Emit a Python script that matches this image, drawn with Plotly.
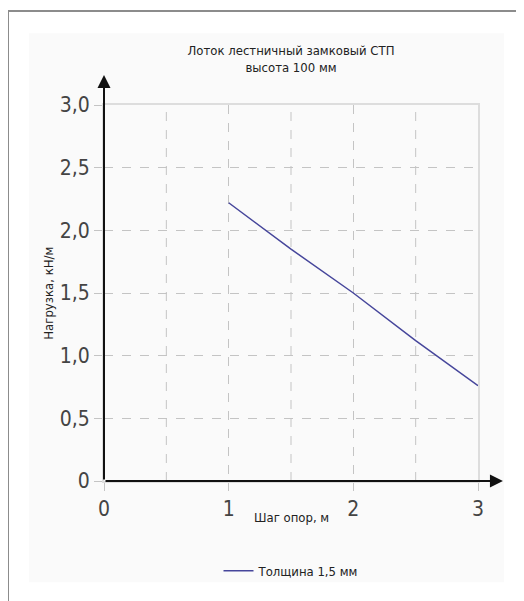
import plotly.graph_objects as go

# данные
spans = [1, 1.5, 2, 2.5, 3]
loads = [2.22, 1.85, 1.5, 1.12, 0.76]

x_ticks = [0, 1, 2, 3]
x_ticktext = ["0", "1", "2", "3"]
y_ticks = [0, 0.5, 1.0, 1.5, 2.0, 2.5, 3.0]
y_ticktext = ["0", "0,5", "1,0", "1,5", "2,0", "2,5", "3,0"]

narrow = dict(family="DejaVu Sans Condensed, Liberation Sans Narrow, sans-serif")

fig = go.Figure()
fig.add_trace(go.Scatter(x=spans, y=loads, mode="lines", name="Толщина 1,5 мм",
                         line=dict(color="#46469b", width=1.5)))

# страница имеет отступ 8px, поэтому фигура чуть меньше окна
fig.update_layout(
    width=516, height=593,
    margin=dict(l=96, r=46, t=97, b=120),
    paper_bgcolor="white", plot_bgcolor="rgba(0,0,0,0)",
    font=dict(color="#333333", **narrow),
    title=dict(text="Лоток лестничный замковый СТП<br>высота 100 мм",
               xref="paper", x=0.5, xanchor="center", y=0.9207, yanchor="middle",
               font=dict(size=13, color="#222222", **narrow)),
    showlegend=True,
    legend=dict(orientation="h", x=0.5, xanchor="center", y=-0.239, yanchor="middle",
                font=dict(size=13, color="#222222", **narrow), bgcolor="rgba(0,0,0,0)"),
)

fig.update_xaxes(range=[0, 3], tickmode="array", tickvals=x_ticks, ticktext=x_ticktext,
                 tickfont=dict(size=21, color="#444444", **narrow),
                 showgrid=True, gridcolor="#c4c4c4", griddash="dash",
                 gridwidth=1, showline=True, mirror=True, linecolor="#dddddd", linewidth=2,
                 ticks="outside", ticklen=8, tickcolor="#c4c4c4", zeroline=False)
fig.update_yaxes(range=[0, 3], tickmode="array", tickvals=y_ticks, ticktext=y_ticktext,
                 tickfont=dict(size=21, color="#444444", **narrow),
                 showgrid=True, gridcolor="#c4c4c4", griddash="dash",
                 gridwidth=1, showline=True, mirror=True, linecolor="#dddddd", linewidth=2,
                 ticks="outside", ticklen=8, tickcolor="#c4c4c4", zeroline=False)

# подписи осей
fig.add_annotation(text="Шаг опор, м", xref="paper", yref="paper", x=0.5, y=-0.122,
                   showarrow=False, font=dict(size=13, color="#222222", **narrow))
fig.add_annotation(text="Нагрузка, кН/м", xref="paper", yref="paper", x=-0.176, y=0.5,
                   textangle=-90, showarrow=False, font=dict(size=13, color="#222222", **narrow))

# вертикальные линии сетки на 0,5 шага
for xv in [0.5, 1.5, 2.5]:
    fig.add_shape(type="line", xref="x", yref="y", x0=xv, x1=xv, y0=0, y1=3,
                  line=dict(color="#c4c4c4", width=1, dash="dash"), layer="below")
    fig.add_shape(type="line", xref="x", yref="paper", x0=xv, x1=xv, y0=0, y1=-0.02,
                  line=dict(color="#c4c4c4", width=1), layer="below")

# фон и рамка (только сверху и слева)
fig.add_shape(type="rect", xref="paper", yref="paper", x0=-0.2005, x1=1.0695, y0=-0.269, y1=1.191,
              line=dict(width=0), fillcolor="#fafafa", layer="below")
fig.add_shape(type="path", xref="paper", yref="paper",
              path="M -0.2567,-0.4 L -0.2567,1.25 L 1.123,1.25",
              line=dict(color="#8c8c8c", width=2), layer="above")

# оси со стрелками
fig.add_annotation(x=3.2, y=0, ax=0, ay=0, xref="x", yref="y", axref="x", ayref="y",
                   text="", showarrow=True, arrowhead=2, arrowsize=1.3, arrowwidth=2, arrowcolor="#111111")
fig.add_annotation(x=0, y=3.24, ax=0, ay=0, xref="x", yref="y", axref="x", ayref="y",
                   text="", showarrow=True, arrowhead=2, arrowsize=1.3, arrowwidth=2, arrowcolor="#111111")

fig.write_html("out.html", config={"displayModeBar": False})
